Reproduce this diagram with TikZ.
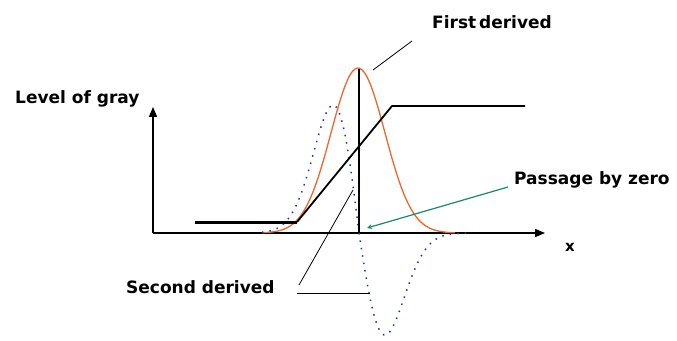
\documentclass[tikz,border=0pt]{standalone}
\usepackage{fontspec}
\setmainfont{DejaVu Sans}
\usetikzlibrary{arrows,positioning}
\definecolor{orangecurve}{RGB}{238,102,46}
\definecolor{bluecurve}{RGB}{30,50,190}
\definecolor{greenarrow}{RGB}{20,140,105}

\begin{document}
\begin{tikzpicture}[
  x=1pt, y=-1pt,
  lbl/.style={font=\fontsize{17}{20}\selectfont\bfseries, inner sep=0pt, anchor=west},
  axis/.style={draw, line width=1.3pt, -triangle 45},
  leader/.style={draw, line width=0.8pt},
  gausscurve/.style={orangecurve, line width=1.3pt, smooth},
  derivcurve/.style={bluecurve, line width=1.5pt, dash pattern=on 1.5pt off 6pt, smooth}
]
\useasboundingbox (0,0) rectangle (677,340);

% axes
\coordinate (origin) at (153,233);
\coordinate (ytip) at (153,107);
\coordinate (xtip) at (545,233);
\draw[axis] (origin) -- (ytip);
\draw[axis] (origin) -- (xtip);

% curves
\draw[gausscurve] plot[domain=262:455, samples=80]
  (\x, {233-165*exp(-((\x-358)^2)/1458)});
\draw[derivcurve] plot[domain=262:359, samples=40]
  (\x, {233-128*((359-\x)/26)*exp(0.5-((\x-359)^2)/1352)});
\draw[derivcurve] plot[domain=359:468, samples=45]
  (\x, {233+102*((\x-359)/26)*exp(0.5-((\x-359)^2)/1352)});

% level of gray
\coordinate (stepa) at (195,222);
\coordinate (stepb) at (297,222);
\coordinate (stepc) at (392,106);
\coordinate (stepd) at (525,106);
\draw[line width=3pt] (stepa) -- (stepb);
\draw[line width=1.8pt, line join=round] (stepb) -- (stepc) -- (stepd);

% zero line
\coordinate (zbase) at (359,233);
\coordinate (ztop) at (359,69);
\draw[line width=1.3pt] (zbase) -- (ztop);

% labels
\node[lbl] (levelgray) at (15,99) {Level of gray};
\node[lbl] (firstder) at (432,22) {First\,derived};
\node[lbl] (passzero) at (514,180) {Passage by zero};
\node[lbl] (secondder) at (126,287) {Second derived};
\node[lbl, font=\fontsize{15}{18}\selectfont\bfseries] (xlbl) at (565,247) {x};

% leaders
\coordinate (firstend) at (373,70);
\coordinate (firststart) at (412,41);
\draw[leader] (firststart) -- (firstend);
\coordinate (secstart) at (299,285);
\coordinate (secend) at (353,190);
\draw[leader] (secstart) -- (secend);
\coordinate (secline) at (297,293);
\coordinate (secdip) at (370,293);
\draw[leader] (secline) -- (secdip);
\coordinate (zeropt) at (367,228);
\draw[greenarrow, line width=1.2pt, ->, >=stealth] (passzero.west) ++(-6,7) -- (zeropt);
\end{tikzpicture}
\end{document}
